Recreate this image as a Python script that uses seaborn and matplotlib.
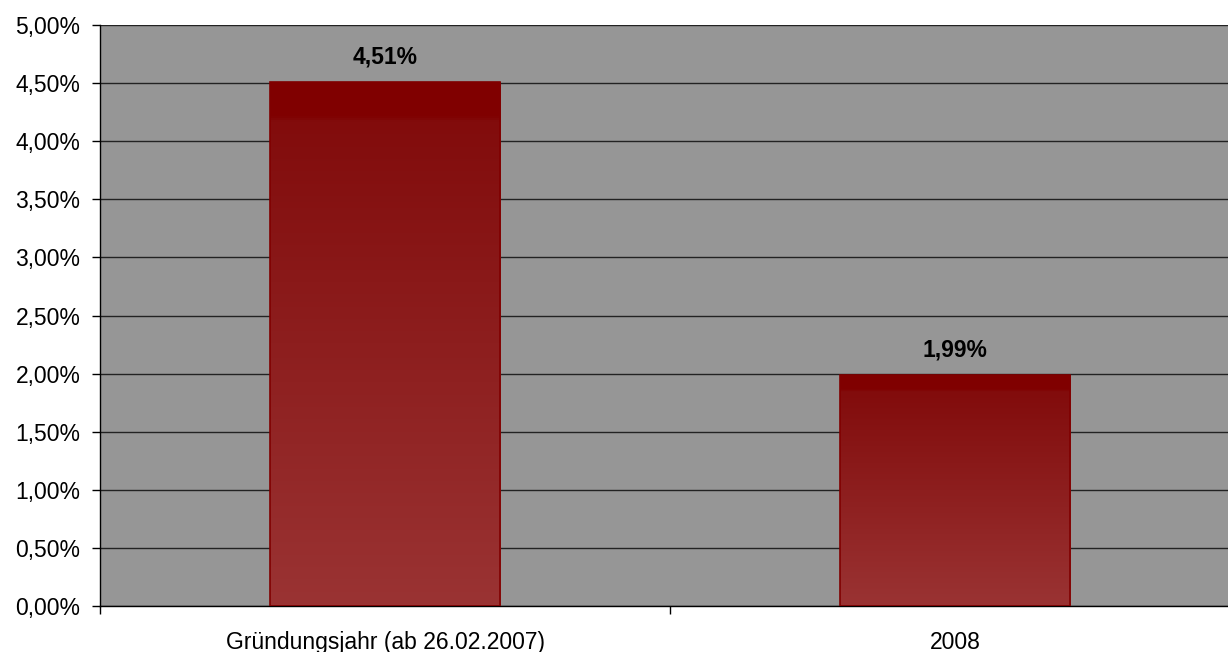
import matplotlib
matplotlib.use("Agg")
import matplotlib.pyplot as plt
import seaborn as sns
import numpy as np
import pandas as pd
from matplotlib.colors import LinearSegmentedColormap
from matplotlib.ticker import FuncFormatter, MultipleLocator, FixedLocator

categories = ["Gründungsjahr (ab 26.02.2007)", "2008"]
values = [4.51, 1.99]
value_labels = ["4,51%", "1,99%"]

sns.set_theme(style="white")
plt.rcParams['font.family'] = ['Liberation Sans', 'DejaVu Sans']

W, H = 1228, 652
fig = plt.figure(figsize=(W / 100, H / 100), dpi=100)
ax = fig.add_axes([100 / W, (H - 606) / H, 1140 / W, (606 - 25) / H])

df = pd.DataFrame({"cat": categories, "val": values})
sns.barplot(data=df, x="cat", y="val", ax=ax, width=0.405, color="#800000",
            edgecolor="#800000", linewidth=1.2, saturation=1, zorder=3)

ax.set_facecolor("#969696")
ax.set_xlim(-0.5, 1.5)
ax.set_ylim(0, 5)
ax.yaxis.set_major_locator(MultipleLocator(0.5))
ax.yaxis.set_major_formatter(FuncFormatter(lambda v, p: f"{v:.2f}%".replace(".", ",")))
ax.grid(axis="y", color="#222222", linewidth=1.0, zorder=1)
ax.set_axisbelow(True)

cmap = LinearSegmentedColormap.from_list(
    "g", [(0, "#800000"), (0.065, "#800000"), (0.075, "#820c0c"), (1, "#9a3333")])
grad = np.linspace(0, 1, 512).reshape(-1, 1)
for p in ax.patches:
    x0, y0 = p.get_x(), p.get_y()
    w, h = p.get_width(), p.get_height()
    p.set_facecolor("none")
    im = ax.imshow(grad, cmap=cmap, aspect="auto", extent=[x0, x0 + w, y0, y0 + h],
                   origin="upper", zorder=2.5, interpolation="nearest")
    im.set_clip_path(p)

for i, (v, lab) in enumerate(zip(values, value_labels)):
    ax.annotate(lab, (i, v), xytext=(0, 13.5), textcoords="offset points",
                ha="center", va="baseline", fontsize=16.5, fontweight="bold", color="black")

ax.set_xlabel("")
ax.set_ylabel("")
for s in ["top", "right"]:
    ax.spines[s].set_visible(False)
ax.spines["left"].set_color("black")
ax.spines["bottom"].set_color("black")
ax.spines["left"].set_linewidth(1.0)
ax.spines["bottom"].set_linewidth(1.0)

ax.tick_params(axis="y", which="major", left=True, length=6, width=1, color="black",
               labelsize=16.5, labelcolor="black", pad=8)
ax.tick_params(axis="x", which="major", bottom=False, labelsize=16.5, labelcolor="black", pad=12)
ax.xaxis.set_minor_locator(FixedLocator([-0.5, 0.5, 1.5]))
ax.tick_params(axis="x", which="minor", bottom=True, length=6, width=1, color="black")

fig.savefig("out.png", dpi=100)
